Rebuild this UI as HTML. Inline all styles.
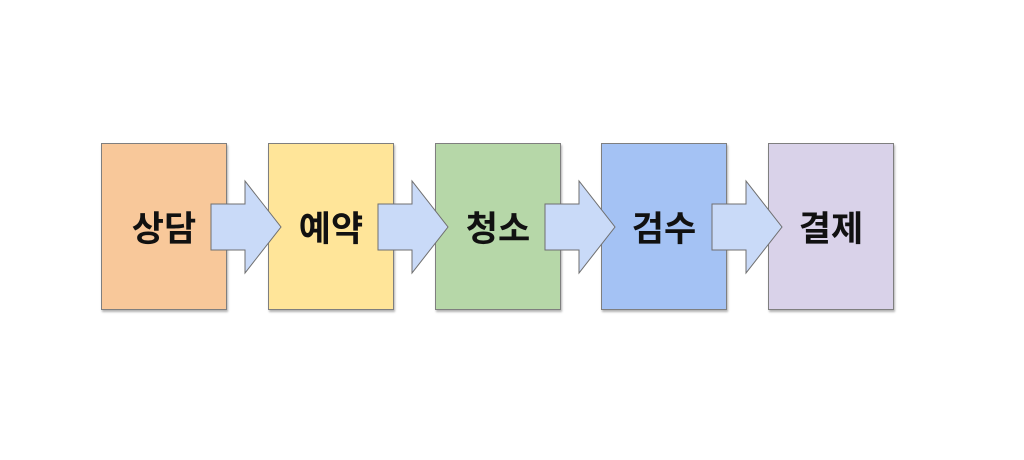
<!DOCTYPE html>
<html><head><meta charset="utf-8"><style>
body{margin:0;width:1024px;height:460px;background:#fff;position:relative;overflow:hidden}
.b{position:absolute;top:143px;width:126px;height:167px;border:1px solid #7f7f7f;box-sizing:border-box;box-shadow:1px 2px 2px rgba(0,0,0,.3);display:flex;align-items:center;justify-content:center;font:bold 35px "Liberation Sans","Noto Sans CJK KR",sans-serif;color:#111}
svg{position:absolute;left:0;top:0}
</style></head><body>
<div class="b" style="left:101px;background:#f8c89a">상담</div>
<div class="b" style="left:268px;background:#ffe599">예약</div>
<div class="b" style="left:435px;background:#b6d7a8">청소</div>
<div class="b" style="left:601px;background:#a4c2f4">검수</div>
<div class="b" style="left:768px;background:#d9d2e9">결제</div>
<svg width="1024" height="460">
<g fill="#c9daf8" stroke="#6f6f6f" stroke-width="1">
<polygon points="211,204 245,204 245,181 281,227 245,273 245,250 211,250"/>
<polygon points="378,204 412,204 412,181 448,227 412,273 412,250 378,250"/>
<polygon points="545,204 579,204 579,181 615,227 579,273 579,250 545,250"/>
<polygon points="712,204 746,204 746,181 782,227 746,273 746,250 712,250"/>
</g></svg>
</body></html>
